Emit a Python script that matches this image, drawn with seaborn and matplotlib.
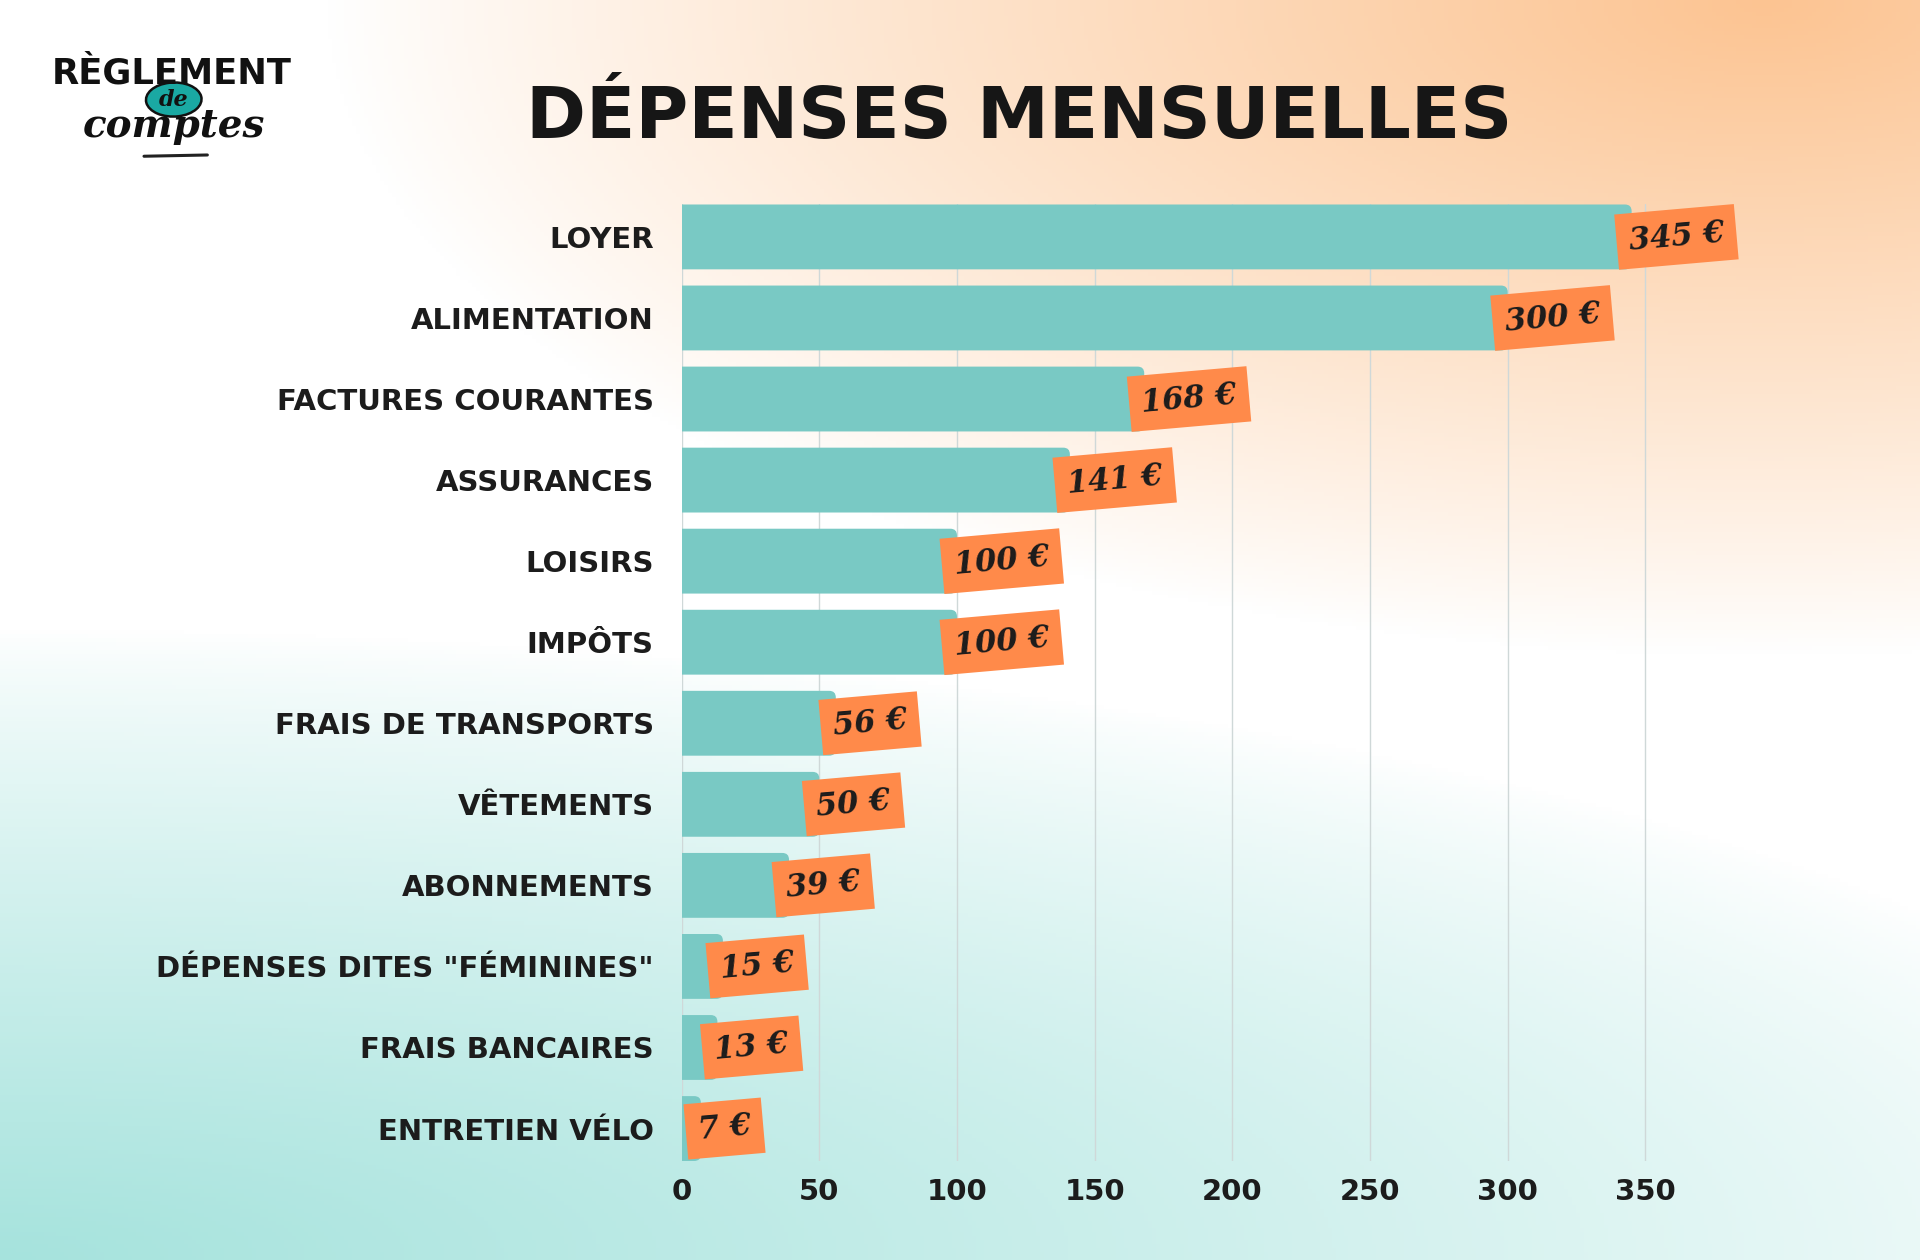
import numpy as np
import pandas as pd
import seaborn as sns
import matplotlib.pyplot as plt
from matplotlib.patches import Ellipse, FancyBboxPatch

# Data
categories = ["LOYER", "ALIMENTATION", "FACTURES COURANTES", "ASSURANCES", "LOISIRS",
              "IMPÔTS", "FRAIS DE TRANSPORTS", "VÊTEMENTS", "ABONNEMENTS",
              'DÉPENSES DITES "FÉMININES"', "FRAIS BANCAIRES", "ENTRETIEN VÉLO"]
amounts = [345, 300, 168, 141, 100, 100, 56, 50, 39, 15, 13, 7]
xticks = [0, 50, 100, 150, 200, 250, 300, 350]

df = pd.DataFrame({"categorie": categories, "montant": amounts})

sns.set_theme(style="white")
plt.rcParams["font.family"] = ["DejaVu Sans"]

fig = plt.figure(figsize=(19.2, 12.6), dpi=100)

# Background gradient: orange top right, teal along the bottom, white elsewhere
bg = fig.add_axes([0, 0, 1, 1], zorder=-10)
u, v = np.meshgrid(np.linspace(0, 1, 480), np.linspace(0, 1, 320))
w_or = np.clip(1 - np.hypot((u - 0.92) / 0.75, v / 0.52), 0, 1) ** 0.9
w_te = np.clip(1 - np.hypot(u / 1.2, (1 - v) / 0.5), 0, 1) ** 0.8
orange = np.array([252, 196, 146]) / 255
teal = np.array([166, 227, 221]) / 255
white = np.ones(3)
tot = np.clip(w_or + w_te, 1, None)
w_or, w_te = w_or / tot, w_te / tot
img = white * (1 - w_or - w_te)[..., None] + orange * w_or[..., None] + teal * w_te[..., None]
bg.imshow(np.clip(img, 0, 1), aspect="auto", extent=[0, 1, 0, 1], origin="upper")
bg.set_axis_off()

ax = fig.add_axes([0.355, 0.0786, 0.545, 0.7591])
ax.patch.set_alpha(0)
sns.barplot(data=df, x="montant", y="categorie", color="#79c9c4", width=0.8,
            saturation=1, linewidth=0, ax=ax, zorder=3)

ax.set_xlim(0, 380)
ax.set_ylim(len(categories) - 0.6, -0.4)

# rounded bar ends
for p in list(ax.patches):
    x0, y0, w, h = p.get_x(), p.get_y(), p.get_width(), p.get_height()
    p.remove()
    ax.add_patch(FancyBboxPatch((x0 - 4, y0), w + 4, h,
                                boxstyle="round,pad=0,rounding_size=2.4",
                                mutation_aspect=0.034, fc="#79c9c4", ec="none",
                                zorder=3))

ax.set_xticks(xticks)
for x in xticks:
    ax.axvline(x, color="#cfd8d8", lw=1.0, zorder=1)
for s in ax.spines.values():
    s.set_visible(False)
ax.set_xlabel("")
ax.set_ylabel("")
ax.tick_params(axis="both", length=0)
ax.tick_params(axis="y", pad=20)
ax.tick_params(axis="x", pad=12)
for lab in ax.get_yticklabels():
    lab.set_fontsize(21)
    lab.set_fontweight("bold")
    lab.set_color("#1c1c1c")
for lab in ax.get_xticklabels():
    lab.set_fontsize(21)
    lab.set_fontweight("bold")
    lab.set_color("#1c1c1c")

# Orange price tags
for i, v in enumerate(amounts):
    ax.annotate(f"{v} €", xy=(v, i), xytext=(-3, 0), textcoords="offset points",
                ha="left", va="center", rotation=5, fontsize=22,
                fontfamily="DejaVu Serif", fontstyle="italic", fontweight="bold",
                color="#1c1c1c", zorder=5,
                bbox=dict(boxstyle="square,pad=0.4", fc="#ff8a4a", ec="none"))

fig.text(0.531, 0.906, "DÉPENSES MENSUELLES", ha="center", va="center",
         fontsize=52, fontweight="heavy", color="#161616")

# Logo
fig.text(0.0895, 0.942, "RÈGLEMENT", ha="center", va="center", fontsize=25.5,
         fontweight="heavy", color="#111111")
bg.add_patch(Ellipse((0.0905, 0.921), 0.029, 0.027, angle=10, fc="#1aa9a3",
                     ec="#111111", lw=1.8, transform=fig.transFigure, zorder=2))
fig.text(0.0905, 0.921, "de", ha="center", va="center", fontsize=16,
         fontfamily="DejaVu Serif", fontstyle="italic", fontweight="bold",
         color="#111111", zorder=3)
fig.text(0.0905, 0.900, "comptes", ha="center", va="center", fontsize=28,
         fontfamily="DejaVu Serif", fontstyle="italic", fontweight="bold",
         color="#111111")
bg.plot([0.075, 0.108], [0.876, 0.877], color="#222222", lw=2.2,
        transform=fig.transFigure, solid_capstyle="round")

fig.savefig("out.png", dpi=100)
